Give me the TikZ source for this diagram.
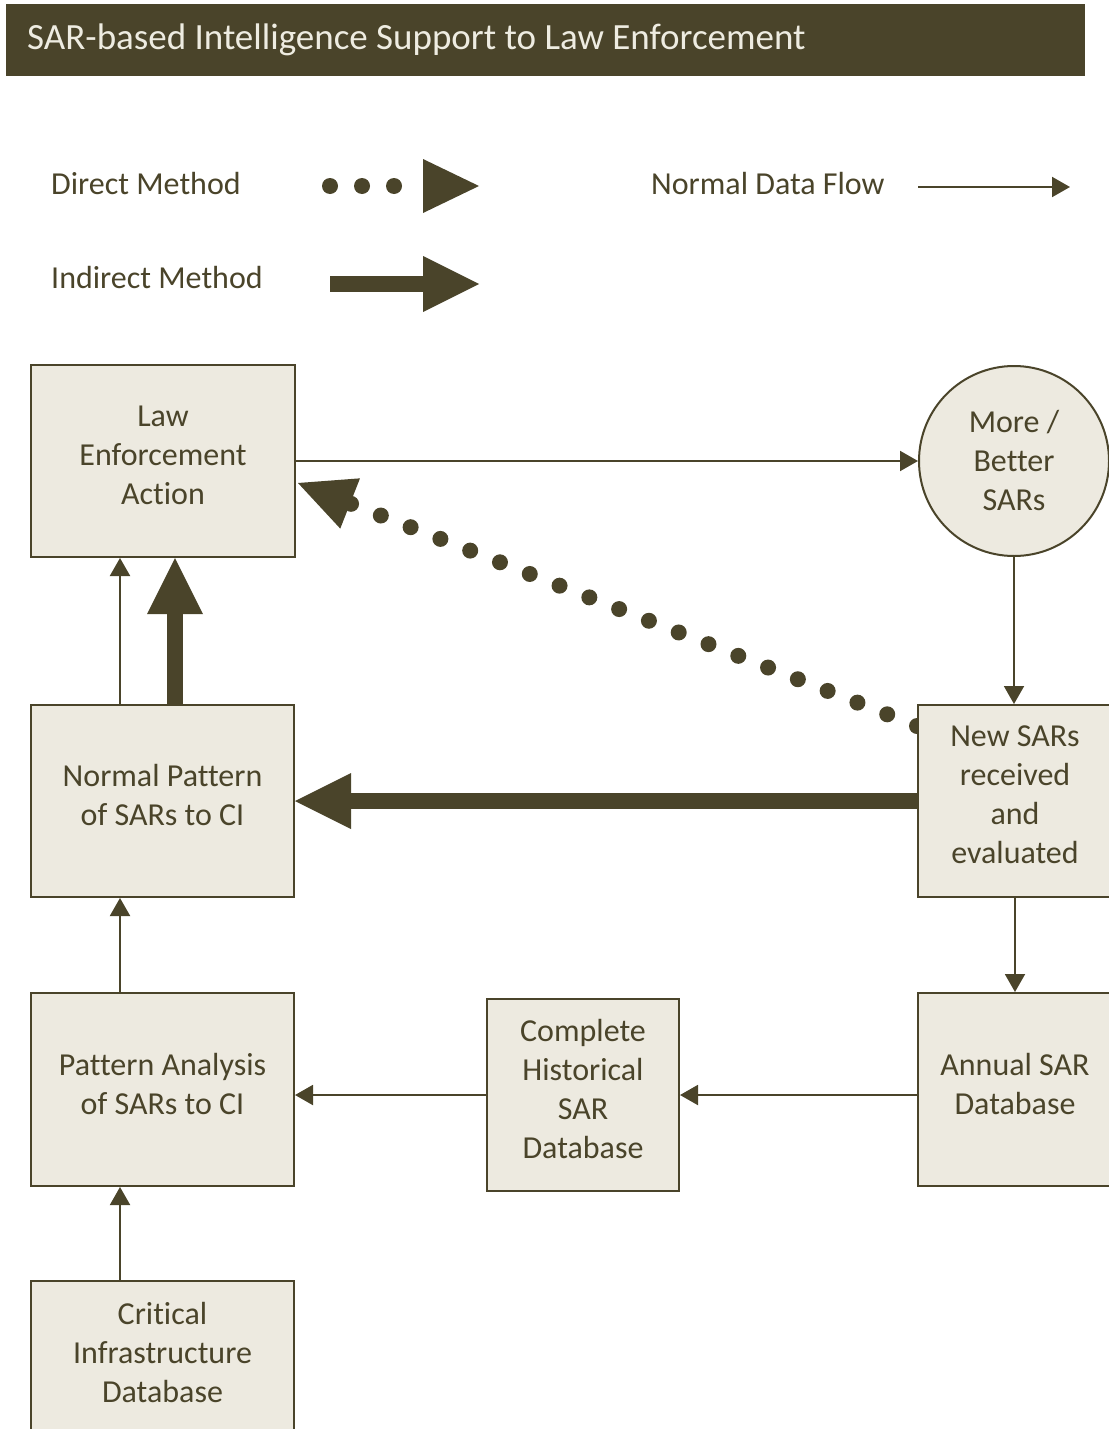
\documentclass[tikz,border=0pt]{standalone}
\usepackage{fontspec}
\setmainfont{Carlito}[Ligatures={NoCommon}]
\usetikzlibrary{arrows.meta,calc}
\definecolor{olive}{RGB}{74,68,42}
\definecolor{boxfill}{RGB}{237,234,224}
\definecolor{titletext}{RGB}{238,236,225}
\pgfdeclarelayer{bg}
\pgfsetlayers{bg,main}
\begin{document}
\begin{tikzpicture}[x=1pt,y=-1pt,
  box/.style={draw=olive,fill=boxfill,line width=2pt,inner sep=0pt,align=center,text=olive,font=\fontsize{32}{39}\selectfont},
  btext/.style={align=center,text=olive,inner sep=0pt,yshift=6pt,font=\fontsize{32}{39}\selectfont},
  legendtext/.style={anchor=base west,inner sep=0pt,text=olive,font=\fontsize{32}{39}\selectfont},
  thinarrow/.style={draw=olive,line width=2pt,-{Triangle[length=18pt,width=20pt]}},
  thickarrow/.style={draw=olive,line width=16pt,-{Triangle[length=56pt,width=56pt,line width=0pt]}},
  dotarrow/.style={draw=olive,line width=16pt,line cap=round,dash pattern=on 0pt off 32pt,-{Triangle[length=56pt,width=54pt,line width=0pt]}}
]
\useasboundingbox (0,0) rectangle (1108,1429);
% header
\fill[olive] (6,4) rectangle (1085,76);
\node[anchor=base west,inner sep=0pt,text=titletext,font=\fontsize{37}{44}\selectfont] (title) at (27,50) {SAR-based Intelligence Support to Law Enforcement};
% legend
\node[legendtext] (ldirect) at (51,194) {Direct Method};
\node[legendtext] (lindirect) at (51,288) {Indirect Method};
\node[legendtext] (lnormal) at (651,194) {Normal Data Flow};
\coordinate (d1) at (330,186); \coordinate (d2) at (479,186);
\coordinate (i1) at (330,284); \coordinate (i2) at (479,284);
\coordinate (n1) at (918,187); \coordinate (n2) at (1070,187);
\draw[dotarrow] (d1) -- (d2);
\draw[thickarrow] (i1) -- (i2);
\draw[thinarrow] (n1) -- (n2);
% nodes
\node[box,minimum width=264pt,minimum height=192pt,label={[btext]center:{Law\\Enforcement\\Action}}] (lea) at (163,461) {};
\node[box,circle,minimum size=190pt] (more) at (1014,461) {More /\\Better\\SARs};
\node[box,minimum width=194pt,minimum height=192pt,label={[btext]center:{New SARs\\received\\and\\evaluated}}] (new) at (1015,801) {};
\node[box,minimum width=263pt,minimum height=192pt,label={[btext]center:{Normal Pattern\\of SARs to CI}}] (normal) at (162.5,801) {};
\node[box,minimum width=194pt,minimum height=193pt,label={[btext]center:{Annual SAR\\Database}}] (annual) at (1015,1089.5) {};
\node[box,minimum width=192pt,minimum height=192pt,label={[btext]center:{Complete\\Historical\\SAR\\Database}}] (complete) at (583,1095) {};
\node[box,minimum width=263pt,minimum height=193pt,label={[btext]center:{Pattern Analysis\\of SARs to CI}}] (pattern) at (162.5,1089.5) {};
\node[box,minimum width=263pt,minimum height=154pt,label={[btext]center:{Critical\\Infrastructure\\Database}}] (critical) at (162.5,1358) {};
% connectors
\begin{pgfonlayer}{bg}
\draw[thinarrow] (lea.east) -- (more.west);
\draw[thinarrow] (more.south) -- (more.south |- new.north);
\draw[thinarrow] (new.south) -- (annual.north);
\draw[thinarrow] (annual.west |- complete.east) -- (complete.east);
\draw[thinarrow] (complete.west) -- (pattern.east |- complete.west);
\draw[thinarrow] ([xshift=-42.5pt]pattern.north) -- ([xshift=-42.5pt]normal.south);
\draw[thinarrow] ([xshift=-42.5pt]critical.north) -- ([xshift=-42.5pt]pattern.south);
\draw[thinarrow] ([xshift=-42.5pt]normal.north) -- ([xshift=-42.5pt]normal.north |- lea.south);
\draw[thickarrow] ([xshift=12.5pt]normal.north) -- ([xshift=12.5pt]normal.north |- lea.south);
\draw[thickarrow] (new.west) -- (normal.east |- new.west);
\draw[dotarrow] ([yshift=-22pt]new.north west) -- ([xshift=2pt,yshift=-22pt]lea.east);
\end{pgfonlayer}
\end{tikzpicture}
\end{document}
